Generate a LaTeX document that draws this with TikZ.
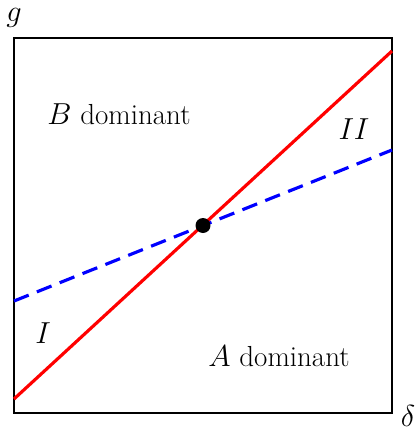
\documentclass[tikz,border=0pt]{standalone}
\usepackage{tikz}
\usetikzlibrary{positioning}

\begin{document}
\begin{tikzpicture}[
  x=0.02cm, y=-0.02cm,
  frame/.style={draw=black, line width=1.7pt},
  redline/.style={draw=red, line width=1.8pt},
  blueline/.style={draw=blue, line width=1.8pt, dash pattern=on 9pt off 5pt},
  region/.style={font=\fontsize{16.5}{20}\selectfont},
  axislabel/.style={font=\fontsize{16.5}{20}\selectfont, inner sep=1pt}
]
  \useasboundingbox (0,0) rectangle (417,430);

  % Frame
  \draw[frame] (14,38) rectangle (392,413);

  % Axis labels
  \node[axislabel] (glab) at (14,18) {$g$};
  \node[axislabel] (dlab) at (408,416) {$\delta$};

  % End points of the two lines
  \coordinate (r0) at (14,399);
  \coordinate (r1) at (392,51);
  \coordinate (b0) at (14,301);
  \coordinate (b1) at (392,150);

  % Lines
  \draw[blueline] (b0) -- (b1);
  \draw[redline] (r0) -- (r1);

  % Crossing point
  \node[circle, fill=black, inner sep=0pt, minimum size=0.3cm] (cross) at (203,225.5) {};

  % Region labels
  \node[region] (bdom) at (119,114) {$B$ dominant};
  \node[region] (adom) at (279,356) {$A$ dominant};
  \node[region] (one) at (43,333) {$I$};
  \node[region] (two) at (354,129) {$II$};
\end{tikzpicture}
\end{document}
